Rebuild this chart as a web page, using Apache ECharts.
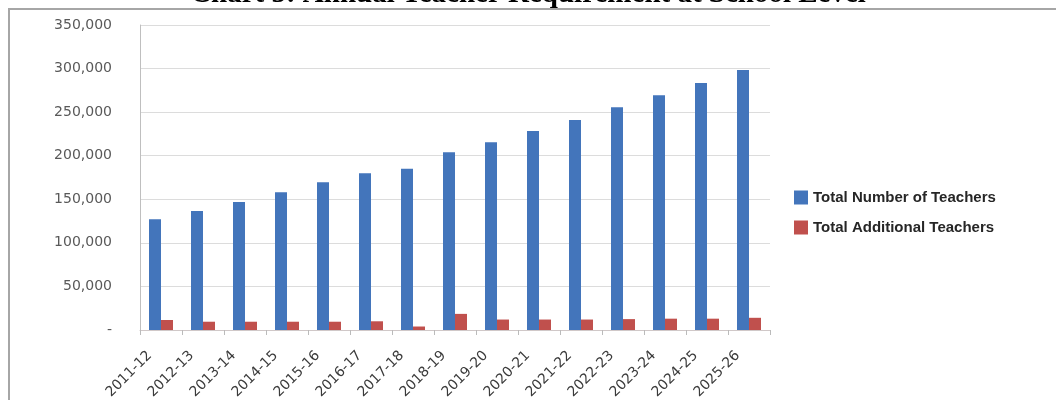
<!DOCTYPE html>
<html>
<head>
<meta charset="utf-8">
<script src="https://cdn.jsdelivr.net/npm/echarts@6/dist/echarts.min.js"></script>
<style>
  html, body { margin: 0; padding: 0; background: #fff; }
  #chart { width: 1056px; height: 400px; }
</style>
</head>
<body>
<div id="chart"></div>
<script>
// 年度 / years
var years = ['2011-12', '2012-13', '2013-14', '2014-15', '2015-16', '2016-17', '2017-18', '2018-19',
  '2019-20', '2020-21', '2021-22', '2022-23', '2023-24', '2024-25', '2025-26'];
var totalTeachers = [127000, 136500, 147000, 158000, 169500, 180000, 185000, 204000,
  215500, 228500, 241000, 255500, 269500, 283500, 298500];
var additionalTeachers = [11500, 9500, 9500, 9500, 9500, 10000, 4000, 18500,
  12000, 12000, 12000, 12500, 13000, 13000, 14000];
var yTicks = [0, 50000, 100000, 150000, 200000, 250000, 300000, 350000];

var chart = echarts.init(document.getElementById('chart'));

var option = {
  animation: false,
  backgroundColor: '#fff',
  title: {
    text: 'Chart 5: Annual Teacher Requirement at School Level',
    left: 'center',
    top: -25,
    textStyle: { fontFamily: 'Liberation Serif', fontWeight: 'bold', fontSize: 29, color: '#000' }
  },
  graphic: [{
    type: 'rect',
    shape: { x: 9, y: 9, width: 1100, height: 500 },
    style: { fill: 'none', stroke: '#a6a6a6', lineWidth: 2 },
    z: -1
  }],
  legend: {
    orient: 'vertical',
    left: 789,
    top: 185,
    icon: 'rect',
    itemWidth: 14,
    itemHeight: 14,
    itemGap: 15,
    textStyle: { fontFamily: 'Liberation Sans', fontWeight: 'bold', fontSize: 15, color: '#262626' }
  },
  grid: { left: 140, right: 286, top: 25, bottom: 70, outerBoundsMode: 'none', containLabel: false },
  xAxis: {
    type: 'category',
    data: years,
    axisLine: { lineStyle: { color: '#d0c8c8' } },
    axisTick: { show: true, lineStyle: { color: '#bbb' } },
    axisLabel: {
      rotate: 45, fontFamily: 'DejaVu Sans', fontSize: 14, color: '#3a3a3a',
      margin: 12, interval: 0, padding: [0, 16, 0, 0]
    }
  },
  yAxis: {
    type: 'value',
    min: yTicks[0],
    max: yTicks[yTicks.length - 1],
    interval: yTicks[1] - yTicks[0],
    axisLine: { show: true, lineStyle: { color: '#bfbfbf' } },
    axisTick: { show: false },
    splitLine: { lineStyle: { color: '#dcdcdc' } },
    axisLabel: {
      margin: 28,
      fontFamily: 'DejaVu Sans',
      fontSize: 14,
      color: '#595959',
      formatter: function (v) { return v === 0 ? '-' : v.toLocaleString('en-US'); }
    }
  },
  series: [
    {
      name: 'Total Number of Teachers',
      type: 'bar',
      data: totalTeachers,
      barWidth: 12,
      barGap: '0%',
      itemStyle: { color: '#4375bb' }
    },
    {
      name: 'Total Additional Teachers',
      type: 'bar',
      data: additionalTeachers,
      barWidth: 12,
      itemStyle: { color: '#c0504d' }
    }
  ]
};

chart.setOption(option);
</script>
</body>
</html>
